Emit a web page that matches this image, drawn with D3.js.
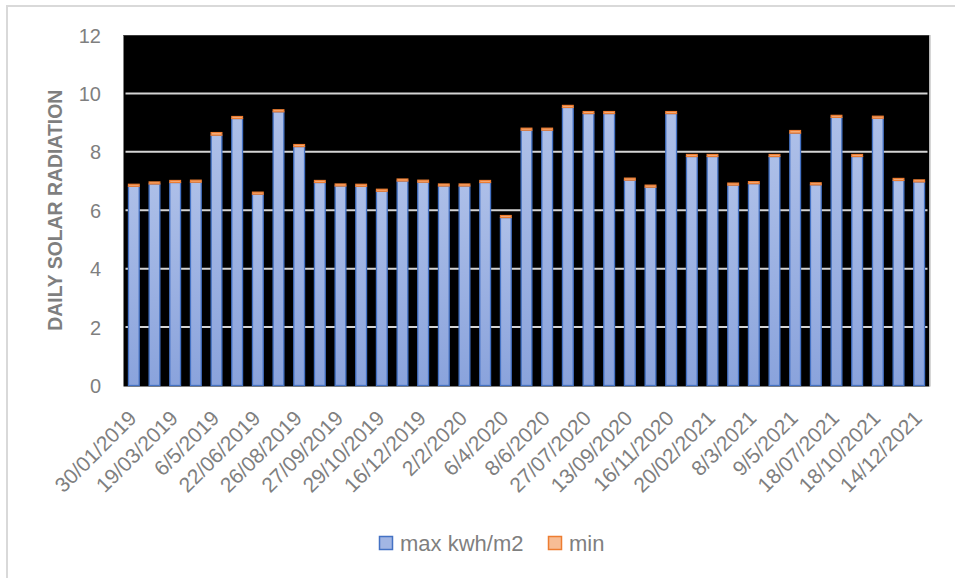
<!DOCTYPE html>
<html>
<head>
<meta charset="utf-8">
<script src="https://cdn.jsdelivr.net/npm/d3@7/dist/d3.min.js"></script>
<style>
  html, body { margin: 0; padding: 0; background: #fff; }
  svg { display: block; }
  text { font-family: "Liberation Sans", Arial, sans-serif; }
</style>
</head>
<body>
<svg id="chart" width="955" height="578"></svg>
<script>
// Daily solar radiation readings (kWh/m2), one stacked bar per observation date
const maxValues = [6.82, 6.90, 6.95, 6.96, 8.57, 9.14, 6.55, 9.37, 8.18, 6.95,
                   6.83, 6.82, 6.65, 7.00, 6.96, 6.83, 6.83, 6.95, 5.75, 8.74,
                   8.74, 9.52, 9.31, 9.31, 7.03, 6.79, 9.31, 7.84, 7.84, 6.86,
                   6.91, 7.84, 8.64, 6.87, 9.18, 7.84, 9.15, 7.02, 6.97];
const minValues = [0.07, 0.07, 0.07, 0.07, 0.09, 0.07, 0.07, 0.07, 0.07, 0.07,
                   0.07, 0.07, 0.07, 0.07, 0.07, 0.07, 0.07, 0.07, 0.07, 0.07,
                   0.07, 0.07, 0.07, 0.07, 0.07, 0.07, 0.07, 0.07, 0.07, 0.07,
                   0.07, 0.07, 0.09, 0.07, 0.07, 0.07, 0.07, 0.07, 0.07];
// Date labels shown under every second bar
const dateLabels = ["30/01/2019", "19/03/2019", "6/5/2019", "22/06/2019", "26/08/2019",
                    "27/09/2019", "29/10/2019", "16/12/2019", "2/2/2020", "6/4/2020",
                    "8/6/2020", "27/07/2020", "13/09/2020", "16/11/2020", "20/02/2021",
                    "8/3/2021", "9/5/2021", "18/07/2021", "18/10/2021", "14/12/2021"];
const yTicks = [0, 2, 4, 6, 8, 10, 12];
const seriesNames = ["max kwh/m2", "min"];

const svg = d3.select("#chart");
const plot = { left: 123.5, right: 929.5, top: 35, bottom: 385.5 };
const textGray = "#7f7f7f";

// Chart frame
svg.append("rect")
  .attr("x", 7).attr("y", 6).attr("width", 970).attr("height", 600)
  .attr("fill", "none").attr("stroke", "#d9d9d9").attr("stroke-width", 2);

// Gradients for the two series
const defs = svg.append("defs");
const gBlue = defs.append("linearGradient").attr("id", "gBlue")
  .attr("x1", 0).attr("y1", 0).attr("x2", 0).attr("y2", 1);
gBlue.append("stop").attr("offset", "0%").attr("stop-color", "#adbfe8");
gBlue.append("stop").attr("offset", "100%").attr("stop-color", "#8aa3dc");
const gOrange = defs.append("linearGradient").attr("id", "gOrange")
  .attr("x1", 0).attr("y1", 0).attr("x2", 0).attr("y2", 1);
gOrange.append("stop").attr("offset", "0%").attr("stop-color", "#f7bd95");
gOrange.append("stop").attr("offset", "100%").attr("stop-color", "#f2a26c");

const indices = d3.range(maxValues.length);
const x = d3.scaleBand().domain(indices)
  .range([plot.left, plot.right]).paddingInner(0.48).paddingOuter(0.24);
const y = d3.scaleLinear().domain([0, 12]).range([plot.bottom, plot.top]);

// Plot area
svg.append("rect")
  .attr("x", plot.left).attr("y", plot.top)
  .attr("width", plot.right - plot.left).attr("height", plot.bottom - plot.top + 1)
  .attr("fill", "#000");
svg.append("line")
  .attr("x1", plot.left).attr("x2", plot.right)
  .attr("y1", plot.top + 0.5).attr("y2", plot.top + 0.5)
  .attr("stroke", "#3a3a3a").attr("stroke-width", 1);
svg.append("line")
  .attr("x1", plot.right + 0.5).attr("x2", plot.right + 0.5)
  .attr("y1", plot.top).attr("y2", plot.bottom + 1)
  .attr("stroke", "#c8c8c8").attr("stroke-width", 1.5);

// Horizontal gridlines
svg.append("g").selectAll("line")
  .data(yTicks.filter(t => t > 0 && t < 12))
  .join("line")
  .attr("x1", plot.left + 2).attr("x2", plot.right - 2)
  .attr("y1", d => y(d)).attr("y2", d => y(d))
  .attr("stroke", "#d4d4d4").attr("stroke-width", 2);

// Stacked series
const rows = indices.map(i => ({ i, max: maxValues[i], min: minValues[i] }));
const stack = d3.stack().keys(["max", "min"]);
const layers = stack(rows);
const fills = ["url(#gBlue)", "url(#gOrange)"];
const strokes = ["#4472c4", "#ed7d31"];

svg.append("g").selectAll("g")
  .data(layers)
  .join("g")
  .attr("fill", (d, k) => fills[k])
  .attr("stroke", (d, k) => strokes[k])
  .attr("stroke-width", (d, k) => k === 0 ? 1.3 : 1.2)
  .selectAll("rect")
  .data(d => d)
  .join("rect")
  .attr("x", d => x(d.data.i))
  .attr("width", x.bandwidth())
  .attr("y", d => y(d[1]))
  .attr("height", d => y(d[0]) - y(d[1]));

// Y axis labels
const yAxis = d3.axisLeft(y).tickValues(yTicks).tickSize(0).tickPadding(0);
const yg = svg.append("g").attr("transform", `translate(101,0)`).call(yAxis);
yg.select(".domain").remove();
yg.selectAll("text")
  .attr("fill", textGray).attr("font-size", "20px")
  .attr("font-family", "Liberation Sans, Arial, sans-serif")
  .attr("dy", "0.35em");

// Y axis title
svg.append("text")
  .attr("transform", `translate(62,${(plot.top + plot.bottom) / 2}) rotate(-90)`)
  .attr("text-anchor", "middle")
  .attr("fill", textGray).attr("font-size", "19.4px").attr("font-weight", "bold")
  .text("DAILY SOLAR RADIATION");

// X axis labels (every second bar)
const xAxis = d3.axisBottom(x)
  .tickValues(indices.filter(i => i % 2 === 0))
  .tickFormat(i => dateLabels[i / 2])
  .tickSize(0).tickPadding(0);
const xg = svg.append("g").attr("transform", `translate(0,${plot.bottom})`).call(xAxis);
xg.select(".domain").remove();
xg.selectAll("text")
  .attr("fill", textGray).attr("font-size", "21px")
  .attr("font-family", "Liberation Sans, Arial, sans-serif")
  .attr("text-anchor", "end")
  .attr("y", 0).attr("dy", 0)
  .attr("transform", "translate(4,34) rotate(-45)");

// Legend
const legendItems = [
  { name: seriesNames[0], fill: "#a2b6e4", stroke: "#4472c4", x: 379 },
  { name: seriesNames[1], fill: "#f7bd95", stroke: "#ed7d31", x: 548 }
];
const lg = svg.append("g").selectAll("g").data(legendItems).join("g")
  .attr("transform", d => `translate(${d.x},536)`);
lg.append("rect")
  .attr("x", 0.5).attr("y", 0.5).attr("width", 13).attr("height", 13)
  .attr("fill", d => d.fill).attr("stroke", d => d.stroke).attr("stroke-width", 1.5);
lg.append("text")
  .attr("x", 21).attr("y", 14.5)
  .attr("fill", textGray).attr("font-size", "22px")
  .text(d => d.name);
</script>
</body>
</html>
